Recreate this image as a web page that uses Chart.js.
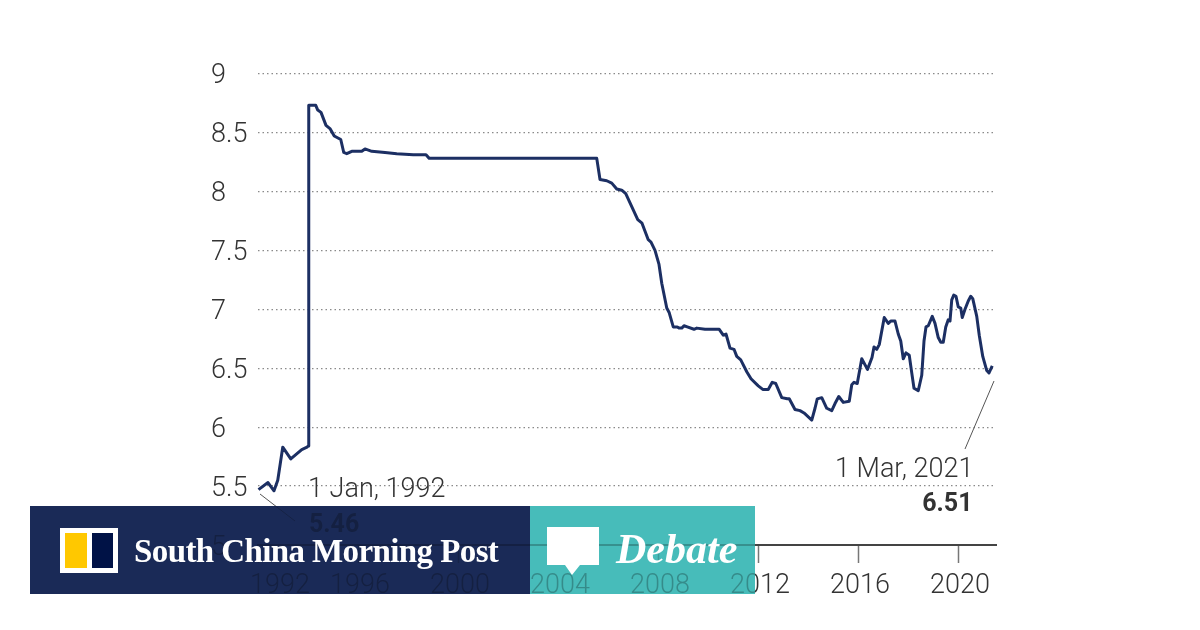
<!DOCTYPE html>
<html>
<head>
<meta charset="utf-8">
<script src="https://cdn.jsdelivr.net/npm/chart.js@4/dist/chart.umd.min.js"></script>
<style>
  html, body { margin: 0; padding: 0; background: #fff; }
  #wrap { position: relative; width: 1200px; height: 630px; overflow: hidden; }
  #rateChart { position: absolute; left: 0; top: 0; }
  #veil { position: absolute; left: 30px; top: 506px; width: 725px; height: 88px; background: rgba(255,255,255,0.68); }
  .band { position: absolute; top: 506px; height: 88px; mix-blend-mode: multiply; }
  #bandNavy { left: 30px; width: 500px; background: #1a2a57; }
  #bandTeal { left: 530px; width: 225px; background: #47bcba; }
  #logo { position: absolute; left: 60px; top: 528px; }
  #bubble { position: absolute; left: 547px; top: 527px; }
  #brand { position: absolute; left: 134px; top: 532px; color: #fff; white-space: nowrap;
           font: bold 33px/38px "Liberation Serif", serif; letter-spacing: -0.6px; }
  #debate { position: absolute; left: 616px; top: 524px; color: #fff; white-space: nowrap;
            font: italic bold 42px/50px "Liberation Serif", serif; }
</style>
</head>
<body>
<div id="wrap">
  <canvas id="rateChart" width="1200" height="630"></canvas>
  <div id="veil"></div>
  <div class="band" id="bandNavy"></div>
  <div class="band" id="bandTeal"></div>
  <svg id="logo" width="58" height="45">
    <rect width="58" height="45" fill="#fff"/>
    <rect x="5" y="5" width="22" height="35" fill="#ffc800"/>
    <rect x="32" y="5" width="21" height="35" fill="#001246"/>
  </svg>
  <svg id="bubble" width="52" height="48">
    <polygon points="0,0 52,0 52,38 33,38 25,48 18,38 0,38" fill="#fff"/>
  </svg>
  <div id="brand">South China Morning Post</div>
  <div id="debate">Debate</div>
</div>
<script>
// values (decimal year, yuan per US dollar)
const years = [
  1992.02, 1992.40, 1992.64, 1992.79, 1992.99, 1993.31, 1993.75, 1993.96, 1994.01, 1994.03,
  1994.31, 1994.39, 1994.52, 1994.72, 1994.89, 1995.05, 1995.31, 1995.43, 1995.55, 1995.75,
  1996.15, 1996.28, 1996.55, 1997.08, 1997.55, 1998.21, 1998.72, 1998.85, 2005.55, 2005.68,
  2005.95, 2006.15, 2006.35, 2006.55, 2006.71, 2006.95, 2007.19, 2007.36, 2007.61, 2007.72,
  2007.88, 2008.04, 2008.15, 2008.35, 2008.45, 2008.61, 2008.77, 2008.85, 2008.95, 2009.04,
  2009.17, 2009.44, 2009.55, 2009.88, 2010.45, 2010.61, 2010.72, 2010.88, 2011.04, 2011.15,
  2011.31, 2011.55, 2011.72, 2012.01, 2012.19, 2012.41, 2012.57, 2012.71, 2012.95, 2013.17,
  2013.25, 2013.48, 2013.68, 2013.84, 2014.15, 2014.28, 2014.37, 2014.55, 2014.75, 2014.95,
  2015.08, 2015.23, 2015.41, 2015.65, 2015.75, 2015.84, 2015.97, 2016.15, 2016.38, 2016.56,
  2016.64, 2016.75, 2016.85, 2017.05, 2017.21, 2017.31, 2017.48, 2017.61, 2017.71, 2017.81,
  2017.92, 2018.05, 2018.15, 2018.24, 2018.41, 2018.55, 2018.64, 2018.72, 2018.81, 2018.97,
  2019.08, 2019.21, 2019.31, 2019.41, 2019.51, 2019.61, 2019.68, 2019.75, 2019.83, 2019.92,
  2020.01, 2020.11, 2020.17, 2020.28, 2020.41, 2020.51, 2020.59, 2020.75, 2020.85, 2020.99,
  2021.15, 2021.24, 2021.37
];
const rates = [
  5.47, 5.53, 5.46, 5.55, 5.83, 5.73, 5.81, 5.83, 5.84, 8.73,
  8.73, 8.69, 8.67, 8.56, 8.53, 8.47, 8.44, 8.33, 8.32, 8.34,
  8.34, 8.36, 8.34, 8.33, 8.32, 8.31, 8.31, 8.28, 8.28, 8.10,
  8.09, 8.07, 8.02, 8.01, 7.98, 7.87, 7.76, 7.73, 7.59, 7.57,
  7.50, 7.38, 7.22, 7.01, 6.97, 6.85, 6.85, 6.84, 6.84, 6.86,
  6.85, 6.83, 6.84, 6.83, 6.83, 6.78, 6.79, 6.67, 6.66, 6.60,
  6.57, 6.47, 6.41, 6.35, 6.32, 6.32, 6.38, 6.37, 6.25, 6.24,
  6.24, 6.15, 6.14, 6.12, 6.06, 6.16, 6.24, 6.25, 6.16, 6.14,
  6.20, 6.26, 6.21, 6.22, 6.36, 6.38, 6.37, 6.58, 6.49, 6.59,
  6.68, 6.66, 6.70, 6.93, 6.88, 6.90, 6.90, 6.79, 6.73, 6.58,
  6.63, 6.61, 6.46, 6.33, 6.31, 6.44, 6.73, 6.85, 6.86, 6.94,
  6.88, 6.76, 6.72, 6.72, 6.85, 6.91, 6.90, 7.08, 7.12, 7.11,
  7.02, 7.01, 6.93, 7.00, 7.07, 7.11, 7.09, 6.94, 6.78, 6.60,
  6.48, 6.46, 6.52
];

const lineColor = '#1c2f63';
const textColor = '#333';
const lightFont = '300 27px Roboto';
const boldFont = '700 25px Roboto';

// labels and leader lines that sit on the chart itself
const notes = {
  id: 'notes',
  afterDraw(chart) {
    const { ctx, scales: { x } } = chart;
    ctx.save();
    ctx.fillStyle = textColor;
    ctx.textBaseline = 'middle';

    // first year label is pushed right so it doesn't hang off the axis
    ctx.font = lightFont;
    ctx.textAlign = 'left';
    ctx.fillText('1992', x.getPixelForValue(1992) - 8, 586);

    ctx.fillText('1 Jan, 1992', 308, 490);
    ctx.font = boldFont;
    ctx.fillText('5.46', 309, 526);

    ctx.textAlign = 'right';
    ctx.font = lightFont;
    ctx.fillText('1 Mar, 2021', 973.5, 470);
    ctx.font = boldFont;
    ctx.fillText('6.51', 972.5, 505);

    ctx.strokeStyle = '#555';
    ctx.lineWidth = 1;
    ctx.beginPath();
    ctx.moveTo(260, 494);
    ctx.lineTo(295, 521);
    ctx.moveTo(965, 449);
    ctx.lineTo(994, 381);
    ctx.stroke();
    ctx.restore();
  }
};

new Chart(document.getElementById('rateChart'), {
  type: 'line',
  data: {
    datasets: [{
      data: years.map((yr, i) => ({ x: yr, y: rates[i] })),
      borderColor: lineColor,
      borderWidth: 3,
      pointRadius: 0,
      tension: 0,
      borderJoinStyle: 'round',
      clip: false
    }]
  },
  plugins: [notes],
  options: {
    responsive: false,
    animation: false,
    layout: { padding: { left: 211, right: 204, top: 73.5, bottom: 25 } },
    plugins: { legend: { display: false }, tooltip: { enabled: false } },
    scales: {
      x: {
        type: 'linear',
        min: 1992,
        max: 2021.52,
        afterFit(axis) { axis.height = 60; },
        border: { color: '#444', width: 2 },
        grid: { drawOnChartArea: false, tickLength: 18, tickColor: '#777', tickWidth: 1.5 },
        ticks: {
          stepSize: 4,
          includeBounds: false,
          autoSkip: false,
          maxRotation: 0,
          padding: 7,
          labelOffset: 2,
          color: textColor,
          font: { family: 'Roboto', size: 27, weight: '300' },
          callback: v => (v === 1992 ? '' : String(v))
        }
      },
      y: {
        min: 5,
        max: 9,
        afterFit(axis) { axis.width = 47; },
        border: { display: false, dash: [1.5, 3] },
        grid: { color: '#8a8a8a', lineWidth: 1.2, drawTicks: false },
        ticks: {
          stepSize: 0.5,
          crossAlign: 'far',
          padding: 0,
          labelOffset: 3,
          color: textColor,
          font: { family: 'Roboto', size: 27, weight: '300' },
          callback: v => String(v)
        }
      }
    }
  }
});
</script>
</body>
</html>
